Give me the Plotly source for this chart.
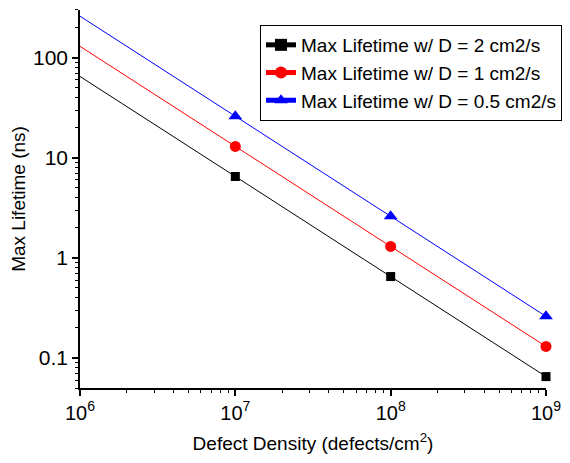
import plotly.graph_objects as go

density = [1e6, 1e7, 1e8, 1e9]
life_d2 = [65, 6.5, 0.65, 0.065]
life_d1 = [130, 13, 1.3, 0.13]
life_d05 = [260, 26, 2.6, 0.26]
names = ["Max Lifetime w/ D = 2 cm2/s", "Max Lifetime w/ D = 1 cm2/s", "Max Lifetime w/ D = 0.5 cm2/s"]
x_ticks = [1e6, 1e7, 1e8, 1e9]
x_tick_labels = ["10<sup>6</sup>", "10<sup>7</sup>", "10<sup>8</sup>", "10<sup>9</sup>"]
y_ticks = [0.1, 1, 10, 100]
y_tick_labels = ["0.1", "1", "10", "100"]
minor_mult = [2, 3, 4, 5, 6, 7, 8, 9]

x_minor = [d * m for d in [1e6, 1e7, 1e8] for m in minor_mult]
y_minor = [d * m for d in [0.01, 0.1, 1, 10, 100] for m in minor_mult]

fig = go.Figure()
styles = [("black", "square", 9), ("red", "circle", 11), ("blue", "triangle-up", 12)]
for ys, nm, (c, sym, sz) in zip([life_d2, life_d1, life_d05], names, styles):
    fig.add_trace(go.Scatter(x=density, y=ys, name=nm, mode="lines+markers",
                             line=dict(color=c, width=1),
                             marker=dict(color=c, symbol=sym, size=sz),
                             cliponaxis=False))

font = "Liberation Sans, Arial, sans-serif"
fig.update_layout(
    width=554, height=447,
    margin=dict(l=72, r=16, t=2, b=67, autoexpand=False),
    plot_bgcolor="white", paper_bgcolor="white",
    font=dict(family=font, size=19, color="black"),
    legend=dict(xref="container", yref="container", x=1.0, y=0.962,
                xanchor="right", yanchor="top",
                bordercolor="black", borderwidth=1, bgcolor="white",
                font=dict(size=19), tracegroupgap=0, itemsizing="constant",
                itemwidth=30),
    xaxis=dict(type="log", range=[6, 9], showgrid=False, zeroline=False,
               showline=True, linecolor="black", linewidth=1.5, automargin=False,
               ticks="outside", ticklen=6, tickwidth=1.5, tickcolor="black",
               tickvals=x_ticks, ticktext=x_tick_labels, ticklabeloverflow="allow",
               tickfont=dict(size=20),
               minor=dict(ticks="outside", ticklen=3, tickcolor="black", tickwidth=1,
                          showgrid=False, tickvals=x_minor),
               title=dict(text="Defect Density (defects/cm<sup>2</sup>)", font=dict(size=19), standoff=14)),
    yaxis=dict(type="log", range=[-1.301, 2.477], showgrid=False, zeroline=False,
               showline=True, linecolor="black", linewidth=1.5, automargin=False,
               ticks="outside", ticklen=6, tickwidth=1.5, tickcolor="black",
               tickvals=y_ticks, ticktext=y_tick_labels,
               tickfont=dict(size=21),
               minor=dict(ticks="outside", ticklen=3, tickcolor="black", tickwidth=1,
                          showgrid=False, tickvals=y_minor),
               title=dict(text="Max Lifetime (ns)", font=dict(size=19), standoff=8)),
)
fig.write_html("out.html")
